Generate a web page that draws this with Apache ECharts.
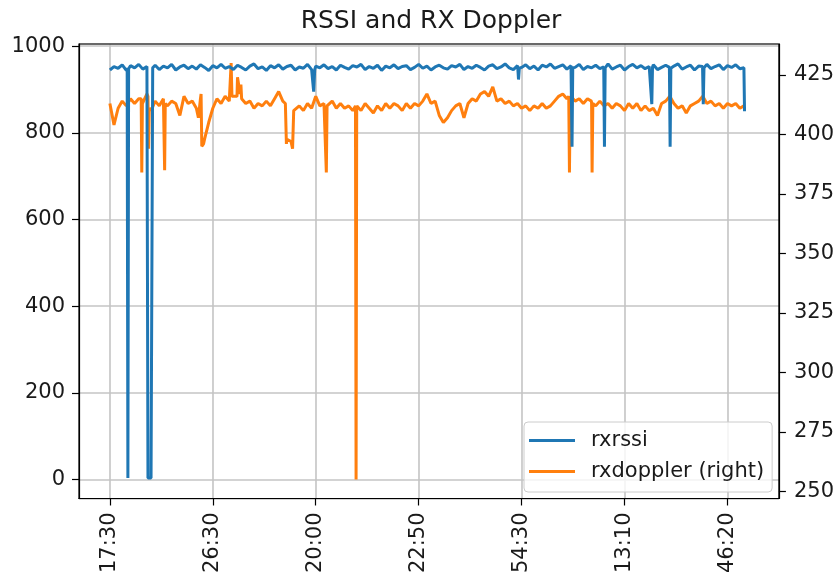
<!DOCTYPE html>
<html><head><meta charset="utf-8">
<script src="https://cdn.jsdelivr.net/npm/echarts@6/dist/echarts.min.js"></script>
<style>html,body{margin:0;padding:0;background:#fff}#c{width:837px;height:576px}</style>
</head><body><div id="c"></div>
<script>
// x tick positions (sample index) and their labels
const xTickIdx = [0, 100, 200, 300, 400, 500, 600];
const xTickLabels = ["17:30", "26:30", "20:00", "22:50", "54:30", "13:10", "46:20"];
const leftTicks = [0, 200, 400, 600, 800, 1000];
const rightTicks = [250, 275, 300, 325, 350, 375, 400, 425];

// regular samples, one every 4 index units (index 0..616)
const baseStep = 4;
const rssiBase = [
  945, 953, 949, 957, 944, 955, 950, 958, 947, 953,
  3, 956, 946, 954, 950, 958, 945, 952, 956, 948,
  954, 947, 957, 951, 944, 955, 950, 958, 949, 953,
  946, 956, 951, 945, 954, 959, 948, 952, 944, 955,
  950, 957, 947, 953, 956, 945, 952, 949, 958, 946,
  954, 950, 957, 948, 953, 945, 956, 951, 947, 955,
  952, 958, 946, 953, 949, 956, 944, 954, 950, 957,
  948, 953, 955, 946, 951, 958, 949, 954, 945, 952,
  956, 950, 947, 955, 952, 958, 946, 953, 949, 956,
  951, 945, 954, 957, 948, 952, 959, 950, 946, 955,
  951, 957, 948, 954, 945, 956, 952, 959, 949, 953,
  957, 947, 955, 951, 958, 946, 953, 950, 956, 948,
  954, 959, 947, 952, 956, 945, 953, 958, 950, 955,
  948, 953, 957, 946, 951, 956, 949, 954, 959, 947,
  952, 956, 945, 954, 950, 958, 948, 953, 957, 946,
  955, 951, 957, 948, 950
];
// extra points [index, value] for sharp drops
const rssiSpikes = [
  [16.8, 950], [17.5, 3], [18.2, 948],
  [36.4, 951], [37.0, 3], [41.0, 3], [41.6, 950],
  [197.2, 948], [198.0, 895], [199.0, 946],
  [396.3, 950], [397.0, 923], [397.8, 949],
  [448.3, 951], [449.0, 768], [449.7, 950],
  [479.8, 952], [480.5, 768], [481.2, 950],
  [525.8, 950], [526.5, 866], [527.2, 952],
  [543.6, 951], [544.3, 768], [545.0, 949],
  [575.8, 953], [576.5, 866], [577.2, 950],
  [616.6, 850]
];
const dopplerBase = [
  413, 404, 411, 414, 412, 415, 413, 415, 413, 417,
  410, 414, 412, 415, 412, 414, 413, 408, 416, 413,
  414, 411, 415, 398, 405, 411, 415, 413, 416, 414,
  416, 424, 415, 413, 414, 411, 413, 412, 414, 412,
  415, 418, 414, 398, 397, 410, 412, 410, 413, 411,
  416, 412, 413, 412, 414, 411, 413, 411, 412, 410,
  412, 410, 413, 411, 409, 412, 410, 413, 411, 413,
  412, 410, 413, 411, 413, 412, 414, 417, 413, 414,
  408, 405, 407, 410, 412, 413, 407, 413, 415, 414,
  417, 418, 416, 420, 414, 415, 413, 414, 412, 413,
  411, 412, 410, 412, 411, 413, 411, 412, 414, 416,
  417, 415, 416, 414, 415, 413, 415, 413, 412, 414,
  412, 413, 411, 413, 412, 410, 413, 411, 413, 410,
  412, 410, 411, 408, 413, 414, 416, 413, 411, 412,
  409, 412, 413, 414, 416, 413, 414, 412, 413, 411,
  413, 412, 413, 411, 412
];
const dopplerSpikes = [
  [30.4, 415], [31.0, 384], [31.6, 413],
  [37.0, 416], [37.6, 394], [38.3, 411],
  [52.6, 415], [53.2, 385], [53.8, 413],
  [86.0, 407], [88.6, 417], [89.3, 395], [91.0, 396],
  [117.8, 430], [118.6, 416],
  [123.5, 416], [126.5, 417], [127.3, 421],
  [170.5, 413], [171.5, 396], [177.5, 394], [178.6, 410],
  [209.6, 413], [210.3, 384], [211.0, 412],
  [238.6, 412], [239.2, 255], [239.8, 411],
  [445.8, 416], [446.5, 384], [447.2, 415],
  [467.8, 414], [468.5, 384], [469.2, 413],
  [616.6, 412]
];

function merge(base, extra) {
  const pts = base.map((v, i) => [i * baseStep, v]).concat(extra.map(p => [p[0], p[1]]));
  pts.sort((a, b) => a[0] - b[0]);
  return pts;
}

const FONT = 'DejaVu Sans';
const TXT = '#1a1a1a';
const tickStyle = {color: '#000', width: 1.2};
const gridLine = {show: true, lineStyle: {color: '#c4c4c4', width: 1.6}};
const chart = echarts.init(document.getElementById('c'), null, {renderer: 'canvas'});
chart.setOption({
  animation: false,
  backgroundColor: '#ffffff',
  title: {
    text: 'RSSI and RX Doppler',
    left: 431, top: 9, padding: 0, textAlign: 'center',
    textStyle: {fontFamily: FONT, fontSize: 25, fontWeight: 'normal', color: TXT}
  },
  grid: {
    left: 79, right: 54, top: 44, bottom: 76,
    show: true, borderColor: '#000', borderWidth: 1.2,
    backgroundColor: 'rgba(0,0,0,0)', z: 5
  },
  legend: {
    data: ['rxrssi', 'rxdoppler (right)'],
    orient: 'vertical', left: 524, top: 422,
    padding: [8, 8, 10, 5], itemGap: 10,
    itemWidth: 46, itemHeight: 3, icon: 'rect',
    backgroundColor: 'rgba(255,255,255,0.8)',
    borderColor: '#cccccc', borderWidth: 1, borderRadius: 4,
    textStyle: {fontFamily: FONT, fontSize: 21, lineHeight: 20, color: TXT, padding: [0, 0, 0, 11]}
  },
  xAxis: {
    type: 'value', min: -30, max: 650,
    axisLine: {show: true, onZero: false, lineStyle: tickStyle},
    axisTick: {show: true, length: 7, customValues: xTickIdx, lineStyle: tickStyle},
    axisLabel: {
      customValues: xTickIdx, rotate: 90, margin: 14,
      fontFamily: FONT, fontSize: 21, color: TXT,
      formatter: v => { const k = xTickIdx.indexOf(v); return k >= 0 ? xTickLabels[k] : ''; }
    },
    splitLine: gridLine
  },
  yAxis: [
    {
      type: 'value', min: -44, max: 1005, position: 'left',
      axisLine: {show: true, onZero: false, lineStyle: tickStyle},
      axisTick: {show: true, length: 7, lineStyle: tickStyle},
      axisLabel: {
        margin: 14, fontFamily: FONT, fontSize: 21, color: TXT,
        showMinLabel: false, showMaxLabel: false,
        formatter: v => leftTicks.indexOf(v) >= 0 ? String(v) : ''
      },
      splitLine: gridLine
    },
    {
      type: 'value', min: 247, max: 438, position: 'right',
      axisLine: {show: true, onZero: false, lineStyle: tickStyle},
      axisTick: {show: true, length: 7, customValues: rightTicks, lineStyle: tickStyle},
      axisLabel: {customValues: rightTicks, margin: 15, fontFamily: FONT, fontSize: 21, color: TXT,
        formatter: v => String(v)},
      splitLine: {show: false}
    }
  ],
  series: [
    {
      name: 'rxdoppler (right)', type: 'line', yAxisIndex: 1,
      data: merge(dopplerBase, dopplerSpikes),
      showSymbol: false, symbol: 'none', color: '#ff7f0e',
      lineStyle: {color: '#ff7f0e', width: 3}, z: 2
    },
    {
      name: 'rxrssi', type: 'line', yAxisIndex: 0,
      data: merge(rssiBase, rssiSpikes),
      showSymbol: false, symbol: 'none', color: '#1f77b4',
      lineStyle: {color: '#1f77b4', width: 3}, z: 3
    }
  ]
});
</script>
</body></html>
